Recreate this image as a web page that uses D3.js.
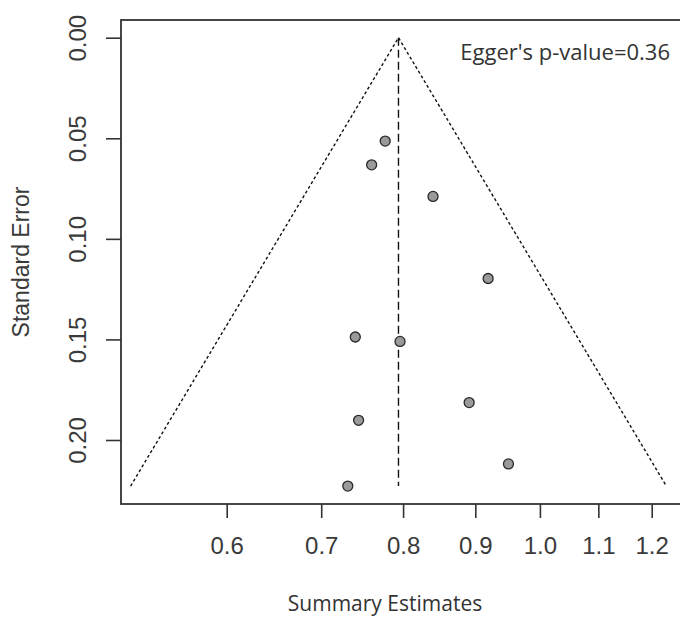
<!DOCTYPE html>
<html>
<head>
<meta charset="utf-8">
<script src="https://cdn.jsdelivr.net/npm/d3@7"></script>
<style>
  html, body { margin: 0; padding: 0; background: #fff; }
  svg { display: block; }
</style>
</head>
<body>
<svg id="chart" width="680" height="617"></svg>
<script>
// Study effect estimates (ratio scale) and their standard errors (log scale)
const estimates      = [0.777, 0.760, 0.840, 0.919, 0.740, 0.796, 0.891, 0.744, 0.950, 0.731];
const standardErrors = [0.0514, 0.0632, 0.0789, 0.1197, 0.1488, 0.1510, 0.1814, 0.1902, 0.2119, 0.2229];
const summaryEstimate = 0.794;
const xTicks = [0.6, 0.7, 0.8, 0.9, 1.0, 1.1, 1.2];
const yTicks = [0.00, 0.05, 0.10, 0.15, 0.20];
const eggerLabel = "Egger's p-value=0.36";
const xTitle = "Summary Estimates";
const yTitle = "Standard Error";

const svg = d3.select("#chart");
const box = { left: 121, top: 20, right: 700, bottom: 504 };

const x = d3.scaleLog().domain([0.6, 1.2]).range([226.7, 651.7]);
const y = d3.scaleLinear().domain([0, 0.20]).range([37.7, 440]);

const ink = "#333";
const tickFont = "'Liberation Sans', Arial, sans-serif";

// Plot frame
svg.append("rect")
  .attr("x", box.left).attr("y", box.top)
  .attr("width", box.right - box.left).attr("height", box.bottom - box.top)
  .attr("fill", "none").attr("stroke", ink).attr("stroke-width", 1.8);

// X axis
const xAxis = svg.append("g").attr("transform", `translate(0,${box.bottom})`)
  .call(d3.axisBottom(x).tickValues(xTicks).tickFormat(d3.format(".1f")).tickSize(14).tickPadding(19));
xAxis.select(".domain").remove();
xAxis.selectAll(".tick line").attr("stroke", ink).attr("stroke-width", 1.6);
xAxis.selectAll(".tick text")
  .attr("fill", "#3a3a3a")
  .style("font-family", tickFont)
  .style("font-size", "24px");

// Y axis with rotated labels
const yAxis = svg.append("g").attr("transform", `translate(${box.left},0)`)
  .call(d3.axisLeft(y).tickValues(yTicks).tickFormat(d3.format(".2f")).tickSize(15));
yAxis.select(".domain").remove();
yAxis.selectAll(".tick line").attr("stroke", ink).attr("stroke-width", 1.6);
yAxis.selectAll(".tick text")
  .attr("x", null)
  .attr("text-anchor", "middle")
  .attr("transform", "translate(-43,0) rotate(-90)")
  .attr("dy", "0.35em")
  .attr("fill", "#3a3a3a")
  .style("font-family", tickFont)
  .style("font-size", "24px");

// Pseudo 95% confidence funnel
const seMax = d3.max(standardErrors);
const logC = Math.log(summaryEstimate);
const funnel = [
  [Math.exp(logC - 1.96 * seMax), seMax],
  [summaryEstimate, 0],
  [Math.exp(logC + 1.96 * seMax), seMax]
];
svg.append("path")
  .attr("d", d3.line().x(d => x(d[0])).y(d => y(d[1]))(funnel))
  .attr("fill", "none").attr("stroke", "#111").attr("stroke-width", 1.4)
  .attr("stroke-dasharray", "3,2.5");

// Summary estimate reference line
svg.append("line")
  .attr("x1", x(summaryEstimate)).attr("x2", x(summaryEstimate))
  .attr("y1", y(0)).attr("y2", y(seMax))
  .attr("stroke", "#111").attr("stroke-width", 1.4)
  .attr("stroke-dasharray", "8,4");

// Study points
svg.append("g").selectAll("circle")
  .data(estimates.map((e, i) => ({ e, se: standardErrors[i] })))
  .join("circle")
  .attr("cx", d => x(d.e)).attr("cy", d => y(d.se))
  .attr("r", 5)
  .attr("fill", "#9a9a9a").attr("stroke", "#2a2a2a").attr("stroke-width", 1.3);

// Annotation
svg.append("text")
  .attr("x", 670).attr("y", 52).attr("dy", "0.35em")
  .attr("text-anchor", "end")
  .attr("fill", "#333")
  .style("font-family", "'Open Sans', 'Noto Sans', sans-serif")
  .style("font-size", "22px")
  .text(eggerLabel);

// Axis titles
svg.append("text")
  .attr("x", 385).attr("y", 604).attr("dy", "0.35em")
  .attr("text-anchor", "middle")
  .attr("fill", "#333")
  .style("font-family", "'Open Sans', 'Noto Sans', sans-serif")
  .style("font-size", "21px")
  .text(xTitle);

svg.append("text")
  .attr("transform", `translate(21,${(box.top + box.bottom) / 2}) rotate(-90)`)
  .attr("dy", "0.35em")
  .attr("text-anchor", "middle")
  .attr("fill", "#3a3a3a")
  .style("font-family", tickFont)
  .style("font-size", "23px")
  .text(yTitle);
</script>
</body>
</html>
